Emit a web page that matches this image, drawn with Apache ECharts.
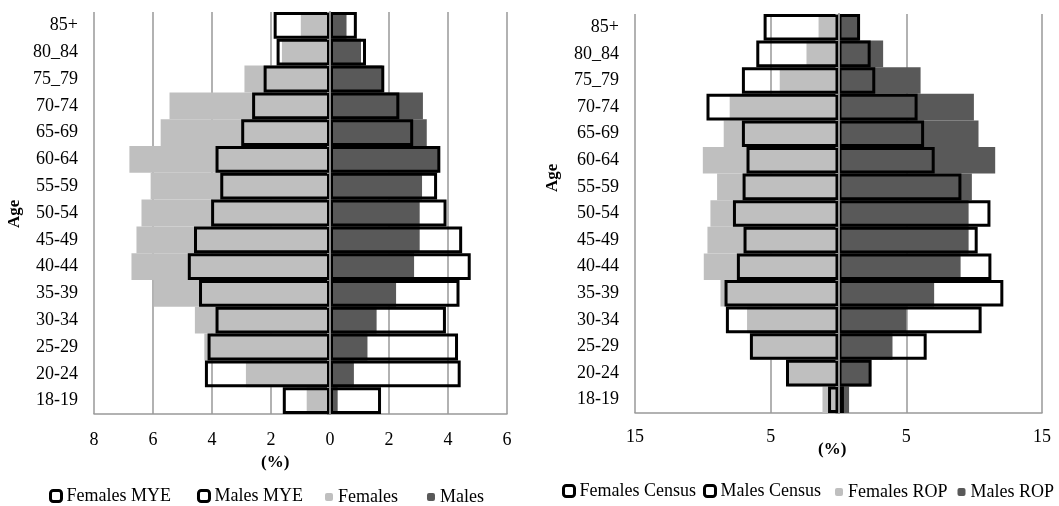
<!DOCTYPE html>
<html>
<head>
<meta charset="utf-8">
<script src="https://cdn.jsdelivr.net/npm/echarts@6/dist/echarts.min.js"></script>
<style>html,body{margin:0;padding:0;background:#fff;}#c{width:1059px;height:506px;}</style>
</head>
<body>
<div id="c"></div>
<script>
// Categories (bottom to top)
var ages = ['18-19','20-24','25-29','30-34','35-39','40-44','45-49','50-54','55-59','60-64','65-69','70-74','75_79','80_84','85+'];

// Left chart (%), females shown to the left
var femalesMYE = [1.60, 4.24, 4.15, 3.88, 4.44, 4.82, 4.61, 4.03, 3.72, 3.88, 3.01, 2.64, 2.25, 1.81, 1.91];
var malesMYE   = [1.73, 4.43, 4.34, 3.93, 4.39, 4.77, 4.48, 3.95, 3.63, 3.74, 2.82, 2.35, 1.84, 1.22, 0.91];
var females    = [0.79, 2.85, 4.26, 4.58, 5.97, 6.73, 6.56, 6.39, 6.08, 6.80, 5.74, 5.44, 2.90, 1.63, 0.99];
var males      = [0.26, 0.81, 1.27, 1.58, 2.24, 2.85, 3.04, 3.04, 3.12, 3.66, 3.28, 3.15, 1.78, 1.05, 0.56];

// Right chart (%)
var femalesCensus = [0.77, 3.87, 6.53, 8.30, 8.40, 7.49, 7.00, 7.78, 7.07, 6.78, 7.12, 9.73, 7.12, 6.06, 5.52];
var malesCensus   = [0.40, 2.44, 6.50, 10.55, 12.15, 11.27, 10.26, 11.20, 9.06, 7.09, 6.31, 5.83, 2.71, 2.37, 1.59];
var femalesROP    = [1.18, 3.70, 6.34, 6.74, 8.70, 9.93, 9.66, 9.44, 8.95, 10.00, 8.46, 8.02, 4.33, 2.36, 1.47];
var malesROP      = [0.78, 2.40, 3.98, 5.01, 7.05, 9.00, 9.59, 9.59, 9.83, 11.55, 10.32, 9.98, 6.05, 3.29, 1.50];

// Tick settings
var leftMin = -8, leftMax = 6, leftStep = 2;
var rightMin = -15, rightMax = 15, rightStep = 10;

var FONT = 'Liberation Serif';
var GRID_C = '#999999';
var LIGHT = '#bfbfbf', DARK = '#595959';

function neg(a){ return a.map(function(v){ return -v; }); }

function fillBar(name, data, color, idx){
  return { name: name, type: 'bar', xAxisIndex: idx, yAxisIndex: idx*2, data: data,
    barCategoryGap: '0%', barGap: '-100%', itemStyle: { color: color }, silent: true };
}
function outlineBar(name, data, idx){
  return { name: name, type: 'bar', xAxisIndex: idx, yAxisIndex: idx*2, data: data,
    barCategoryGap: '0%', barGap: '-100%', silent: true,
    itemStyle: { color: 'rgba(0,0,0,0)', borderColor: '#000', borderWidth: 3 } };
}
function xAx(idx, mn, mx, step, margin){
  return { type: 'value', gridIndex: idx, min: mn, max: mx, interval: step,
    axisLine: { show: true, onZero: false, lineStyle: { color: GRID_C, width: 1.5 } },
    axisTick: { show: false },
    splitLine: { show: true, lineStyle: { color: GRID_C, width: 1.5 } },
    axisLabel: { color: '#000', fontFamily: FONT, fontSize: 18, margin: margin,
      formatter: function(v){ return String(Math.abs(v)); } } };
}
function yAxLabels(idx){
  return { type: 'category', gridIndex: idx, data: ages, position: 'left',
    axisLine: { show: false, onZero: false }, axisTick: { show: false }, splitLine: { show: false },
    axisLabel: { color: '#000', fontFamily: FONT, fontSize: 18, margin: 16 } };
}
function yAxZero(idx){
  return { type: 'category', gridIndex: idx, data: ages, position: 'left', z: 10,
    axisLine: { show: true, onZero: true, lineStyle: { color: '#8c8c8c', width: 2 } },
    axisTick: { show: true, length: 3, lineStyle: { color: '#8c8c8c' } },
    axisLabel: { show: false }, splitLine: { show: false } };
}
var outlineIcon = { color: '#fff', borderColor: '#000', borderWidth: 3 };
var legendText = { fontFamily: FONT, fontSize: 18, color: '#000' };
function legend(left, top, size, gap, items){
  return { left: left, top: top, width: 400, padding: 0, itemWidth: size, itemHeight: size, itemGap: gap,
    icon: 'roundRect', textStyle: legendText, selectedMode: false, data: items };
}

var option = {
  animation: false,
  backgroundColor: '#fff',
  textStyle: { fontFamily: FONT },
  grid: [
    { left: 94, top: 12, width: 413, bottom: 92, containLabel: false },
    { left: 635, top: 14, width: 407, bottom: 93, containLabel: false }
  ],
  xAxis: [ xAx(0, leftMin, leftMax, leftStep, 17), xAx(1, rightMin, rightMax, rightStep, 15) ],
  yAxis: [ yAxLabels(0), yAxZero(0), yAxLabels(1), yAxZero(1) ],
  legend: [
    legend(49, 487, 11, 26, [ { name: 'Females MYE', itemStyle: outlineIcon }, { name: 'Males MYE', itemStyle: outlineIcon } ]),
    legend(325, 488, 8, 29, [ { name: 'Females', itemStyle: { color: LIGHT } }, { name: 'Males', itemStyle: { color: DARK } } ]),
    legend(562, 482, 11, 7, [ { name: 'Females Census', itemStyle: outlineIcon }, { name: 'Males Census', itemStyle: outlineIcon } ]),
    legend(835, 483, 8, 10, [ { name: 'Females ROP', itemStyle: { color: LIGHT } }, { name: 'Males ROP', itemStyle: { color: DARK } } ])
  ],
  graphic: [
    { type: 'text', left: 261, top: 454, style: { text: '(%)', fontFamily: FONT, fontSize: 17, fontWeight: 'bold', fill: '#000' } },
    { type: 'text', left: 818, top: 441, style: { text: '(%)', fontFamily: FONT, fontSize: 17, fontWeight: 'bold', fill: '#000' } },
    { type: 'text', x: 6, y: 228, rotation: Math.PI/2, style: { text: 'Age', fontFamily: FONT, fontSize: 17, fontWeight: 'bold', fill: '#000' } },
    { type: 'text', x: 544, y: 192, rotation: Math.PI/2, style: { text: 'Age', fontFamily: FONT, fontSize: 17, fontWeight: 'bold', fill: '#000' } }
  ],
  series: [
    fillBar('Females', neg(females), LIGHT, 0),
    fillBar('Males', males, DARK, 0),
    outlineBar('Females MYE', neg(femalesMYE), 0),
    outlineBar('Males MYE', malesMYE, 0),
    fillBar('Females ROP', neg(femalesROP), LIGHT, 1),
    fillBar('Males ROP', malesROP, DARK, 1),
    outlineBar('Females Census', neg(femalesCensus), 1),
    outlineBar('Males Census', malesCensus, 1)
  ]
};
var chart = echarts.init(document.getElementById('c'), null, { renderer: 'canvas' });
chart.setOption(option);
</script>
</body>
</html>
